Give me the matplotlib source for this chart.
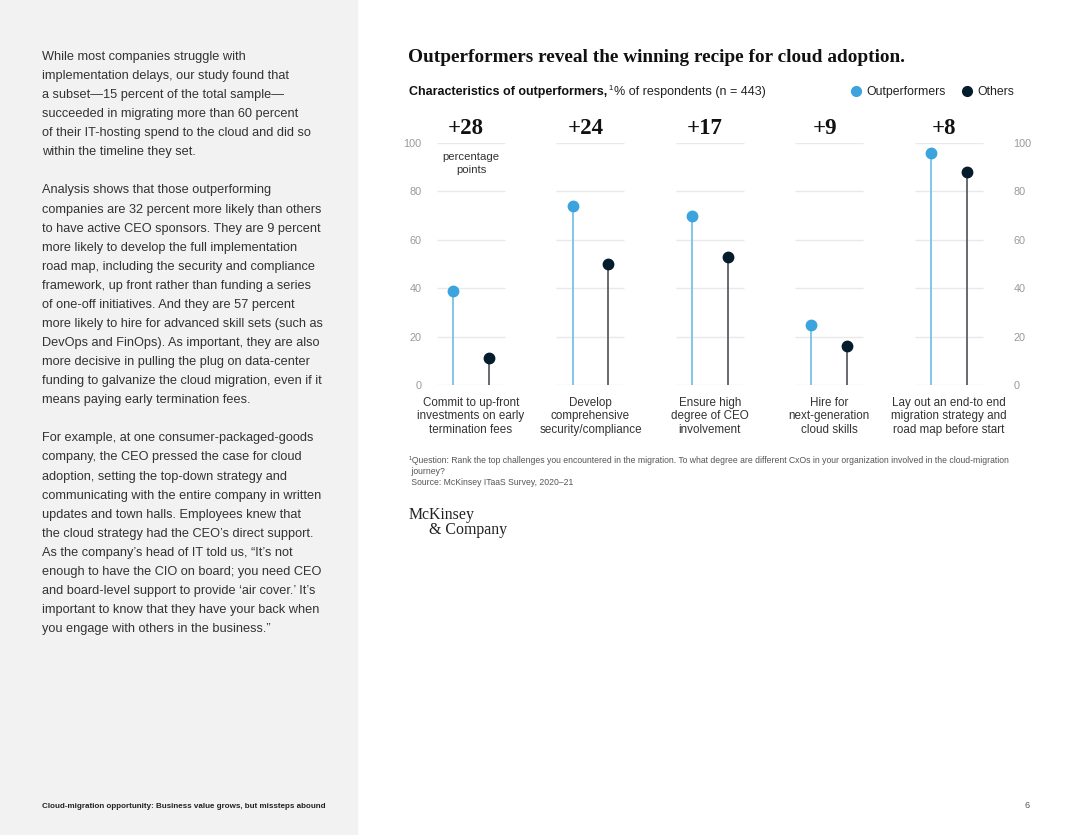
import matplotlib.pyplot as plt
from matplotlib.patches import Rectangle
from matplotlib.lines import Line2D

W, H = 1080, 835

# data
categories = ['Commit to up-front\ninvestments on early\ntermination fees',
              'Develop\ncomprehensive\nsecurity/compliance',
              'Ensure high\ndegree of CEO\ninvolvement',
              'Hire for\nnext-generation\ncloud skills',
              'Lay out an end-to end\nmigration strategy and\nroad map before start']
outperformers = [39, 74, 70, 25, 96]
others = [11, 50, 53, 16, 88]
yticks = [0, 20, 40, 60, 80, 100]

body_lines = [
    "While most companies struggle with",
    "implementation delays, our study found that",
    "a subset\u201415 percent of the total sample\u2014",
    "succeeded in migrating more than 60 percent",
    "of their IT-hosting spend to the cloud and did so",
    "within the timeline they set.",
    "",
    "Analysis shows that those outperforming",
    "companies are 32 percent more likely than others",
    "to have active CEO sponsors. They are 9 percent",
    "more likely to develop the full implementation",
    "road map, including the security and compliance",
    "framework, up front rather than funding a series",
    "of one-off initiatives. And they are 57 percent",
    "more likely to hire for advanced skill sets (such as",
    "DevOps and FinOps). As important, they are also",
    "more decisive in pulling the plug on data-center",
    "funding to galvanize the cloud migration, even if it",
    "means paying early termination fees.",
    "",
    "For example, at one consumer-packaged-goods",
    "company, the CEO pressed the case for cloud",
    "adoption, setting the top-down strategy and",
    "communicating with the entire company in written",
    "updates and town halls. Employees knew that",
    "the cloud strategy had the CEO\u2019s direct support.",
    "As the company\u2019s head of IT told us, \u201cIt\u2019s not",
    "enough to have the CIO on board; you need CEO",
    "and board-level support to provide \u2018air cover.\u2019 It\u2019s",
    "important to know that they have your back when",
    "you engage with others in the business.\u201d",
]

BLUE = '#3ba3dd'
BLUE_STEM = '#7cc0e6'
NAVY = '#051c2c'
NAVY_STEM = '#5a5f64'
GRID = '#e9e9e9'
TXT = '#333333'

plt.rcParams['font.family'] = ['Liberation Sans', 'DejaVu Sans']


def fx(x):
    return x / W


def fy(y):
    return 1 - y / H


fig = plt.figure(figsize=(W / 100, H / 100), dpi=100)
fig.patches.append(Rectangle((0, 0), fx(357), 1, transform=fig.transFigure,
                             color='#f2f2f2', zorder=0))

# left column text
for k, line in enumerate(body_lines):
    if line:
        fig.text(fx(42), fy(57 + k * 19.07), line, fontsize=9.2, color=TXT,
                 va='center', ha='left')

fig.text(fx(42), fy(806), 'Cloud-migration opportunity: Business value grows, but missteps abound',
         fontsize=5.8, fontweight='bold', color='#222222', va='center', ha='left')
fig.text(fx(1030), fy(806), '6', fontsize=6.5, color='#555555', va='center', ha='right')

# title and subtitle
fig.text(fx(408), fy(57), 'Outperformers reveal the winning recipe for cloud adoption.',
         family='Liberation Serif', fontsize=13.9, fontweight='bold', color='#111111',
         va='center', ha='left')

sub1 = fig.text(fx(409), fy(92), 'Characteristics of outperformers,', fontsize=9,
                fontweight='bold', color='#111111', va='center', ha='left')
renderer = fig.canvas.get_renderer()
bb = sub1.get_window_extent(renderer)
sup = fig.text(bb.x1 / W + fx(1), fy(88), '1', fontsize=5.5, color='#111111',
               va='center', ha='left')
bb2 = sup.get_window_extent(renderer)
fig.text(bb2.x1 / W + fx(2), fy(92), '% of respondents (n = 443)', fontsize=9,
         color='#222222', va='center', ha='left')

handles = [Line2D([], [], marker='o', ls='none', color=BLUE, markersize=7, label='Outperformers'),
           Line2D([], [], marker='o', ls='none', color=NAVY, markersize=7, label='Others')]
fig.legend(handles=handles, loc='center right', bbox_to_anchor=(fx(1025), fy(92)), ncol=2,
           frameon=False, fontsize=8.8, handletextpad=0.35, columnspacing=1.2,
           handlelength=1.0, labelcolor='#222222')

# chart
ax = fig.add_axes([fx(430), fy(385), fx(1005) - fx(430), (385 - 143) / H])
ax.set_xlim(-0.343, 4.47)
ax.set_ylim(0, 100)

n = len(categories)
for i in range(n):
    ax.hlines(yticks, i - 0.285, i + 0.285, color=GRID, lw=1, zorder=1)

xs_o = [i - 0.15 for i in range(n)]
xs_e = [i + 0.15 for i in range(n)]
ax.vlines(xs_o, 0, outperformers, color=BLUE_STEM, lw=1.3, zorder=2)
ax.vlines(xs_e, 0, others, color=NAVY_STEM, lw=1.3, zorder=2)
ax.plot(xs_o, outperformers, 'o', color=BLUE, markersize=7.5, zorder=3, clip_on=False)
ax.plot(xs_e, others, 'o', color=NAVY, markersize=7.5, zorder=3, clip_on=False)

for i in range(n):
    ax.text(i - 0.04, 105.8, f'+{outperformers[i] - others[i]}', family='Liberation Serif',
            fontsize=16.5, fontweight='bold', color='#111111', ha='center', va='center',
            clip_on=False)
ax.text(0, 91.5, 'percentage\npoints', fontsize=8.2, color=TXT, ha='center', va='center',
        linespacing=1.3)

ax.set_xticks(range(n))
ax.set_xticklabels(categories, fontsize=8.4, color=TXT, linespacing=1.17)
ax.set_yticks(yticks)
ax.tick_params(axis='x', length=0, pad=8.5)
ax.tick_params(axis='y', length=0, labelsize=7.8, labelcolor='#9a9a9a', pad=6,
               labelright=True)
for s in ax.spines.values():
    s.set_visible(False)

# footnote and logo
fig.text(fx(409), fy(456), '\u00b9Question: Rank the top challenges you encountered in the migration. '
         'To what degree are different CxOs in your organization involved in the cloud-migration\n'
         ' journey?\n Source: McKinsey ITaaS Survey, 2020\u201321',
         fontsize=6.2, color='#555555', va='top', ha='left', linespacing=1.3)

fig.text(fx(409), fy(515), 'McKinsey', family='Liberation Serif', fontsize=11.4,
         color='#222222', va='center', ha='left')
fig.text(fx(429), fy(530), '& Company', family='Liberation Serif', fontsize=11.4,
         color='#222222', va='center', ha='left')

fig.savefig('out.png', dpi=100)
